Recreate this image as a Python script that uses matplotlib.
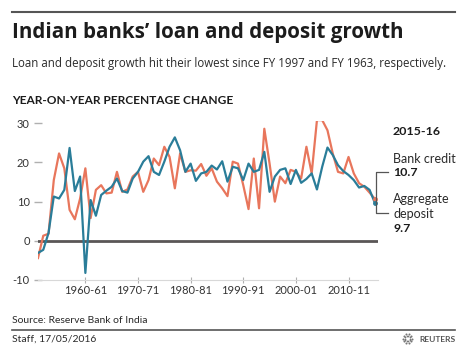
import numpy as np
import matplotlib
matplotlib.use("Agg")
import matplotlib.pyplot as plt
from matplotlib.lines import Line2D

# fiscal years, labelled by starting year (1951 = FY 1951-52)
years = list(range(1951, 2016))

bank_credit = [
    -4.4, 1.3, 1.8, 15.5, 22.3, 18.5, 7.9, 5.5, 10.8, 18.5,
    5.8, 13.0, 14.2, 12.1, 12.3, 17.6, 12.5, 13.1, 16.4, 17.6,
    12.5, 15.5, 21.0, 19.3, 24.0, 21.4, 13.4, 22.3, 17.6, 18.0,
    17.9, 19.6, 16.6, 18.5, 15.1, 13.4, 11.4, 20.2, 19.7, 14.2,
    8.1, 21.0, 8.3, 28.6, 19.7, 10.0, 16.4, 14.7, 18.1, 17.6,
    15.9, 24.0, 17.2, 30.8, 30.8, 28.2, 22.3, 17.6, 17.2, 21.4,
    17.2, 14.7, 13.8, 12.3, 10.7,
]

aggregate_deposit = [
    -3.1, -2.3, 2.0, 11.3, 10.8, 13.0, 23.7, 12.7, 16.4, -8.2,
    10.4, 6.4, 11.7, 12.8, 13.8, 15.9, 12.7, 12.3, 15.9, 17.6,
    20.2, 21.6, 17.6, 16.8, 20.2, 24.0, 26.4, 23.1, 17.6, 19.7,
    15.3, 17.2, 17.6, 19.2, 18.2, 20.3, 15.1, 18.9, 18.5, 15.5,
    19.7, 17.6, 18.1, 22.7, 12.5, 16.4, 18.1, 18.5, 14.5, 18.1,
    14.8, 15.8, 17.2, 13.1, 18.9, 23.8, 21.9, 19.3, 17.8, 16.8,
    15.5, 13.6, 14.0, 13.0, 9.7,
]

tick_years = [1960, 1970, 1980, 1990, 2000, 2010]
tick_labels = ["1960-61", "1970-71", "1980-81", "1990-91", "2000-01", "2010-11"]
y_ticks = [-10, 0, 10, 20, 30]

RED = "#e8765c"
BLUE = "#2a7d99"
DARK = "#1c1c1c"

plt.rcParams["font.family"] = ["Lato", "DejaVu Sans"]
WIDE = ["Open Sans", "DejaVu Sans"]

W, H = 467, 355
fig = plt.figure(figsize=(W / 100, H / 100), dpi=100)


def fx(px):
    return px / W


def fy(py):
    return 1 - py / H


# plot area in pixels
left, right, top, bottom = 38, 378, 121.3, 280
ax = fig.add_axes([fx(left), fy(bottom), fx(right - left), (bottom - top) / H])

ax.axhline(0, color="#5a5656", lw=2.0, zorder=2)
ax.plot(years, bank_credit, color=RED, lw=1.6, zorder=3)
ax.plot(years, aggregate_deposit, color=BLUE, lw=1.6, zorder=4)
ax.plot(years[-1], bank_credit[-1], "o", color=RED, ms=2.5, zorder=5)
ax.plot(years[-1], aggregate_deposit[-1], "o", color=BLUE, ms=2.5, zorder=5)

ax.set_xlim(1951, 2015.6)
ax.set_ylim(-10, 30.5)

for s in ["top", "right", "left"]:
    ax.spines[s].set_visible(False)
ax.spines["bottom"].set_color("#d8d8d8")
ax.spines["bottom"].set_linewidth(0.8)

ax.set_yticks(y_ticks)
ax.set_yticklabels([str(v) for v in y_ticks])
ax.set_xticks(tick_years)
ax.set_xticklabels(tick_labels)
ax.tick_params(axis="y", direction="inout", length=6, width=1, color="#b0b0b0",
               pad=3, labelsize=8, labelcolor="#333333")
ax.tick_params(axis="x", direction="inout", length=5, width=0.8, color="#b0b0b0",
               pad=1, labelsize=8, labelcolor="#333333")
ax.patch.set_alpha(0)

# header
fig.add_artist(Line2D([fx(12), fx(455)], [fy(12), fy(12)], color="#555555", lw=1.5))
fig.text(fx(12), fy(38.3), "Indian banks\u2019 loan and deposit growth",
         fontsize=14.8, fontweight="bold", color=DARK, va="baseline", family=WIDE)
fig.text(fx(12), fy(66.5),
         "Loan and deposit growth hit their lowest since FY 1997 and FY 1963, respectively.",
         fontsize=8.3, color="#2a2a2a", va="baseline", family=WIDE)
fig.text(fx(12), fy(103.5), "YEAR-ON-YEAR PERCENTAGE CHANGE",
         fontsize=8.6, fontweight="bold", color=DARK, va="baseline")

# right-hand annotation
fig.text(fx(393), fy(135), "2015-16", fontsize=8.9, fontweight="bold", color=DARK, va="baseline")
fig.text(fx(393), fy(162.5), "Bank credit", fontsize=9, color="#2a2a2a", va="baseline")
fig.text(fx(393), fy(176.5), "10.7", fontsize=8.9, fontweight="bold", color=DARK, va="baseline")
fig.text(fx(393), fy(203), "Aggregate", fontsize=9, color="#2a2a2a", va="baseline")
fig.text(fx(393), fy(217.5), "deposit", fontsize=9, color="#2a2a2a", va="baseline")
fig.text(fx(393), fy(232.5), "9.7", fontsize=8.9, fontweight="bold", color=DARK, va="baseline")
fig.add_artist(Line2D([fx(388), fx(376), fx(376), fx(388)],
                      [fy(172), fy(172), fy(213), fy(213)], color="#555555", lw=0.9))

# footer
fig.text(fx(12), fy(323.3), "Source: Reserve Bank of India", fontsize=7.5,
         color="#2a2a2a", va="baseline")
fig.add_artist(Line2D([fx(12), fx(455)], [fy(330), fy(330)], color="#555555", lw=1.2))
fig.text(fx(12), fy(341.7), "Staff, 17/05/2016", fontsize=7.5, color="#2a2a2a", va="baseline")
fig.text(fx(455), fy(341.5), "REUTERS", fontsize=6, fontweight="bold", color="#555555",
         va="baseline", ha="right")

# small dotted ring for the logo
logo = fig.add_axes([fx(402), fy(344), fx(11), 11 / H])
ang = np.linspace(0, 2 * np.pi, 10, endpoint=False)
for r, sz in [(1.0, 2.2), (0.6, 1.6)]:
    logo.scatter(r * np.cos(ang), r * np.sin(ang), s=sz, color="#777777", lw=0)
logo.set_xlim(-1.3, 1.3)
logo.set_ylim(-1.3, 1.3)
logo.axis("off")

fig.savefig("out.png", dpi=100)
